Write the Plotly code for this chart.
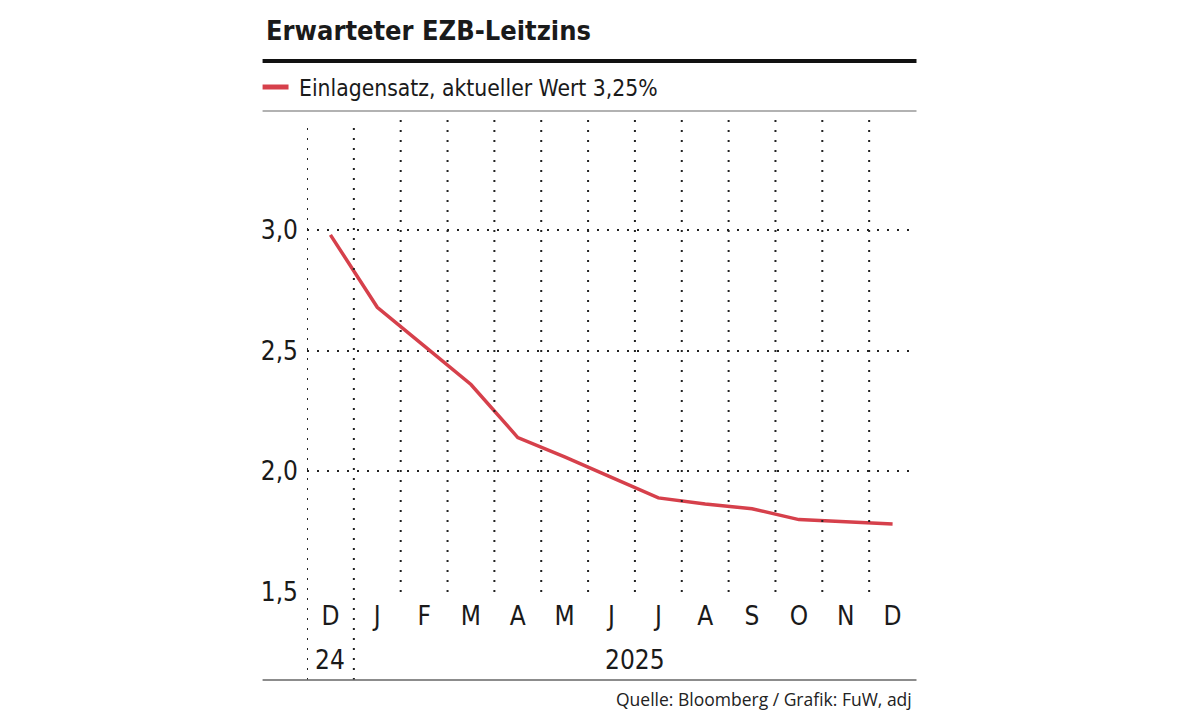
import plotly.graph_objects as go

# ---- data ----
months = ["D", "J", "F", "M", "A", "M", "J", "J", "A", "S", "O", "N", "D"]
rate = [2.98, 2.68, 2.52, 2.36, 2.14, 2.06, 1.975, 1.89, 1.865, 1.845, 1.80, 1.79, 1.782]
y_ticks = [1.5, 2.0, 2.5, 3.0]
y_labels = ["1,5", "2,0", "2,5", "3,0"]
years = ["24", "2025"]
year_spans = [(0, 0), (1, 12)]

title = "Erwarteter EZB-Leitzins"
series_name = "Einlagensatz, aktueller Wert 3,25%"
source = "Quelle: Bloomberg / Grafik: FuW, adj"

# ---- layout geometry (pixels; page body margin removed via post_script) ----
FW, FH = 1179, 713
L = 306.5
T = 120
R = FW - 916.5
B = FH - 592
W, H = FW - L - R, FH - T - B


def px(x):
    return (x - L) / W


def py(y):
    return (T + H - y) / H


RED = "#d6404b"
COND = "Liberation Sans Narrow, DejaVu Sans Condensed, sans-serif"
DOT = "2px,8px"
INK = "#1a1a1a"

fig = go.Figure()
fig.add_trace(go.Scatter(
    x=list(range(len(months))), y=rate, mode="lines",
    line=dict(color=RED, width=3.5), name=series_name, showlegend=False,
    hoverinfo="skip",
))

shapes = []
bounds = [i - 0.5 for i in range(len(months))]
year_starts = [s - 0.5 for s, _ in year_spans]
for b in bounds:
    y0 = py(680) if b in year_starts else 0
    shapes.append(dict(type="line", xref="x", yref="paper", x0=b, x1=b, y0=y0, y1=1,
                       line=dict(color="#222", width=2, dash=DOT)))
shapes.append(dict(type="line", xref="paper", yref="paper", x0=px(262), x1=px(917),
                   y0=py(61), y1=py(61), line=dict(color="#111", width=4)))
shapes.append(dict(type="line", xref="paper", yref="paper", x0=px(262), x1=px(917),
                   y0=py(111), y1=py(111), line=dict(color="#999", width=1.5)))
shapes.append(dict(type="line", xref="paper", yref="paper", x0=px(262), x1=px(917),
                   y0=py(680), y1=py(680), line=dict(color="#666", width=1.5)))
shapes.append(dict(type="line", xref="paper", yref="paper", x0=px(262), x1=px(288),
                   y0=py(87), y1=py(87), line=dict(color=RED, width=5)))

annotations = [
    dict(text=f"<b>{title}</b>", xref="paper", yref="paper", x=px(263), y=py(30),
         xanchor="left", yanchor="middle", showarrow=False,
         font=dict(family=COND, size=27, color=INK)),
    dict(text=series_name, xref="paper", yref="paper", x=px(296), y=py(88),
         xanchor="left", yanchor="middle", showarrow=False,
         font=dict(family=COND, size=22.7, color=INK)),
    dict(text=source, xref="paper", yref="paper", x=px(914), y=py(699),
         xanchor="right", yanchor="middle", showarrow=False,
         font=dict(family="Open Sans, sans-serif", size=17.5, color="#222")),
]
for label, (s, e) in zip(years, year_spans):
    annotations.append(dict(text=label, xref="x", yref="paper", x=(s + e) / 2, y=py(660),
                            xanchor="center", yanchor="middle", showarrow=False,
                            font=dict(family=COND, size=26, color=INK)))

fig.update_layout(
    width=FW, height=FH,
    margin=dict(l=L, r=R, t=T, b=B, autoexpand=False),
    paper_bgcolor="white", plot_bgcolor="white",
    shapes=shapes, annotations=annotations,
    xaxis=dict(range=[-0.5, len(months) - 0.5], tickvals=list(range(len(months))),
               ticktext=months, showgrid=False, zeroline=False, showline=False,
               ticks="", ticklabelstandoff=6,
               tickfont=dict(family=COND, size=26, color=INK), fixedrange=True),
    yaxis=dict(range=[1.5, 3.456], tickvals=y_ticks, ticktext=y_labels,
               showgrid=True, gridcolor="#222", gridwidth=2, griddash=DOT,
               zeroline=False, showline=False, ticks="", ticklabelstandoff=8,
               tickfont=dict(family=COND, size=26, color=INK), fixedrange=True),
    showlegend=False,
)

fig.write_html(
    "out.html",
    config={"displayModeBar": False, "staticPlot": True},
    post_script="document.body.style.margin='0';document.body.style.overflow='hidden';",
)
